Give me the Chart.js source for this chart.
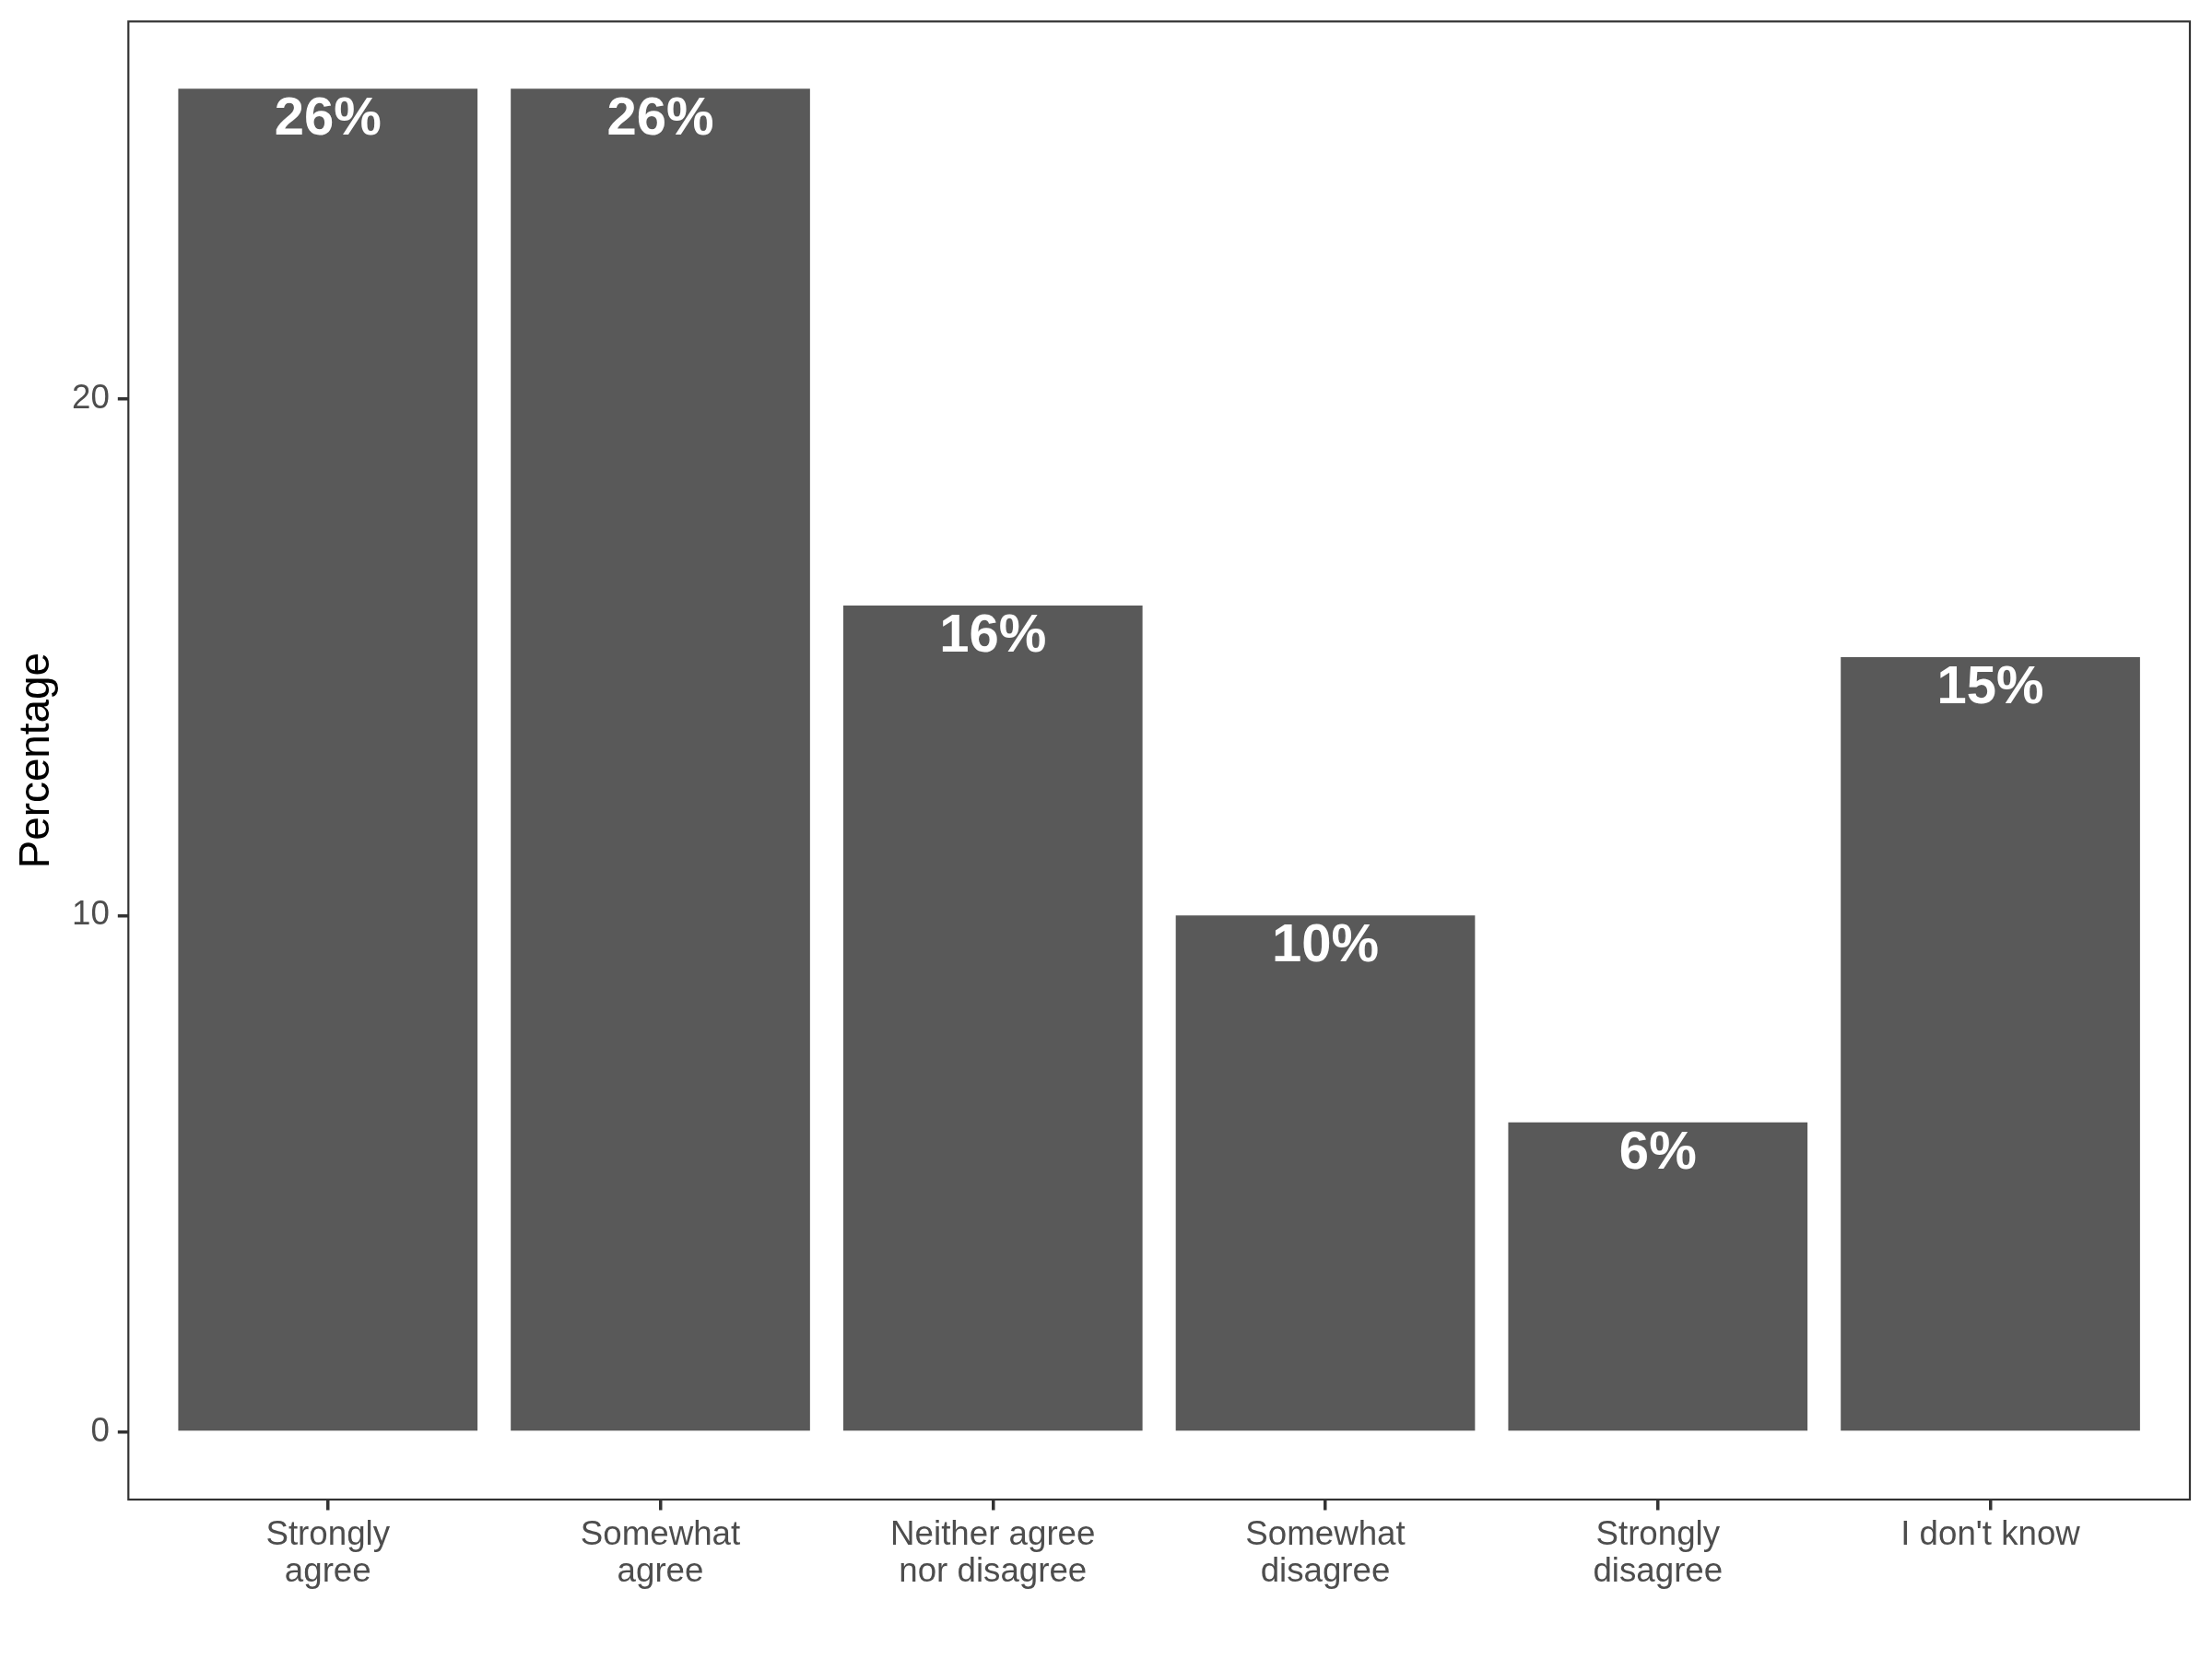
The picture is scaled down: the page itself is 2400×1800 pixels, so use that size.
<!DOCTYPE html>
<html>
<head>
<meta charset="utf-8">
<script src="https://cdn.jsdelivr.net/npm/chart.js@4/dist/chart.umd.min.js"></script>
<style>
  html, body { margin: 0; padding: 0; background: #ffffff; }
  #wrap { width: 2400px; height: 1800px; }
</style>
</head>
<body>
<div id="wrap"><canvas id="c" width="2400" height="1800"></canvas></div>
<script>
const categories = ["Strongly\nagree", "Somewhat\nagree", "Neither agree\nnor disagree", "Somewhat\ndisagree", "Strongly\ndisagree", "I don't know"];
const percentages = [26, 26, 16, 10, 6, 15];
const barLabels = ["26%", "26%", "16%", "10%", "6%", "15%"];
const yTickValues = [0, 10, 20];
const xTickValues = [1, 2, 3, 4, 5, 6];

const FONT = "'Liberation Sans', Arial, Helvetica, sans-serif";

const labelPlugin = {
  id: 'barLabelsAndBorder',
  afterDatasetsDraw(chart) {
    const ctx = chart.ctx;
    const meta = chart.getDatasetMeta(0);
    ctx.save();
    ctx.fillStyle = '#ffffff';
    ctx.font = 'bold 58px ' + FONT;
    ctx.textAlign = 'center';
    ctx.textBaseline = 'alphabetic';
    meta.data.forEach((bar, i) => {
      ctx.fillText(barLabels[i], bar.x, bar.y + 50);
    });
    ctx.restore();
    const a = chart.chartArea;
    ctx.save();
    ctx.strokeStyle = '#333333';
    ctx.lineWidth = 2.2;
    ctx.strokeRect(a.left, a.top, a.right - a.left, a.bottom - a.top);
    ctx.restore();
  }
};

new Chart(document.getElementById('c'), {
  type: 'bar',
  data: {
    datasets: [{
      data: percentages.map((v, i) => ({ x: xTickValues[i], y: v })),
      backgroundColor: '#595959',
      borderWidth: 0,
      barPercentage: 0.9,
      categoryPercentage: 1.0
    }]
  },
  options: {
    responsive: false,
    animation: false,
    devicePixelRatio: 1,
    layout: { padding: { top: 23.3, right: 24, left: 0, bottom: 0 } },
    plugins: { legend: { display: false }, tooltip: { enabled: false } },
    scales: {
      x: {
        type: 'linear',
        min: 0.4,
        max: 6.6,
        offset: false,
        afterBuildTicks(scale) { scale.ticks = xTickValues.map(v => ({ value: v })); },
        afterFit(scale) {
          scale.height = 1800 - 1627;
          scale.paddingLeft = 0; scale.paddingRight = 0;
        },
        grid: { offset: false, drawOnChartArea: false, drawTicks: true, tickLength: 11.5, color: '#333333', lineWidth: 3.5 },
        border: { display: false },
        ticks: {
          autoSkip: false,
          maxRotation: 0,
          minRotation: 0,
          padding: 8,
          color: '#4D4D4D',
          font: { family: FONT, size: 36.7, lineHeight: 1.07 },
          callback: (v) => categories[v - 1].split('\n')
        }
      },
      y: {
        min: -1.3,
        max: 27.3,
        afterBuildTicks(scale) { scale.ticks = yTickValues.map(v => ({ value: v })); },
        afterFit(scale) {
          scale.width = 139.3;
          scale.paddingTop = 0; scale.paddingBottom = 0;
        },
        grid: { offset: false, drawOnChartArea: false, drawTicks: true, tickLength: 11.5, color: '#333333', lineWidth: 3.5 },
        border: { display: false },
        ticks: {
          padding: 9,
          color: '#4D4D4D',
          font: { family: FONT, size: 36.7 },
          callback: (v) => String(v)
        },
        title: {
          display: true,
          text: 'Percentage',
          color: '#000000',
          font: { family: FONT, size: 45.8, lineHeight: 1.2 },
          padding: { top: 13, bottom: 0 }
        }
      }
    }
  },
  plugins: [labelPlugin]
});
</script>
</body>
</html>
